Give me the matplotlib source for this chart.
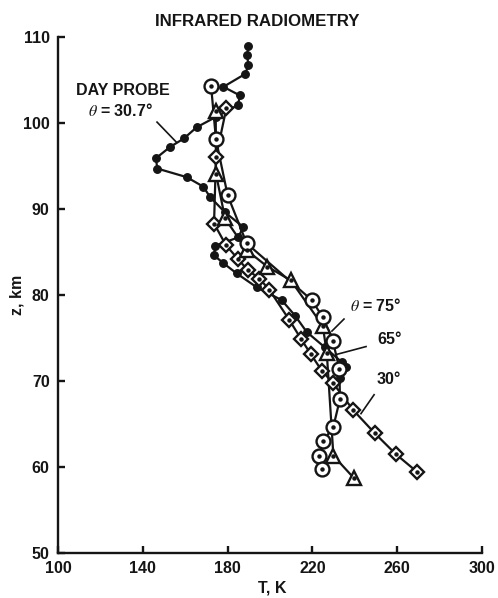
import matplotlib
matplotlib.use("Agg")
import matplotlib.pyplot as plt

plt.rcParams['font.family'] = ['Liberation Sans', 'DejaVu Sans']
plt.rcParams['mathtext.fontset'] = 'stix'

# Day probe profile (theta = 30.7 deg)
probe_T = [189.8, 189.2, 189.8, 188.3, 178.0, 185.8, 184.9, 174.5, 165.4, 159.4,
           152.8, 146.2, 146.8, 160.7, 168.5, 171.7, 178.8, 187.4, 185.0, 174.1,
           173.6, 178.0, 184.3, 193.7, 205.5, 211.8, 217.3, 225.9, 233.8, 235.8, 233.0]
probe_z = [109.0, 107.9, 106.7, 105.7, 104.2, 103.2, 102.1, 100.7, 99.5, 98.2,
           97.2, 95.9, 94.7, 93.7, 92.6, 91.4, 89.6, 87.9, 86.7, 85.7,
           84.6, 83.7, 82.5, 80.9, 79.4, 77.6, 75.7, 73.9, 72.2, 71.6, 70.3]

# Radiometer profile, theta = 75 deg (circles)
t75_T = [172.2, 174.5, 180.0, 189.0, 219.7, 224.9, 229.6, 232.7, 233.0, 229.9, 225.1, 223.3, 224.4]
t75_z = [104.3, 98.1, 91.6, 86.0, 79.4, 77.4, 74.7, 71.4, 67.9, 64.7, 63.0, 61.3, 59.8]

# Radiometer profile, theta = 65 deg (triangles)
t65_T = [174.4, 174.5, 178.8, 189.0, 198.7, 209.8, 224.9, 226.8, 229.9, 239.6]
t65_z = [101.4, 94.1, 88.9, 85.2, 83.3, 81.7, 76.4, 73.2, 61.3, 58.7]

# Radiometer profile, theta = 30 deg (diamonds)
t30_T = [179.4, 174.5, 173.6, 179.2, 184.8, 189.5, 195.0, 199.7, 209.1, 214.6,
         219.3, 224.4, 229.6, 239.3, 249.5, 259.3, 269.5]
t30_z = [101.7, 96.0, 88.3, 85.8, 84.2, 82.9, 81.9, 80.6, 77.1, 74.9,
         73.1, 71.2, 69.8, 66.6, 63.9, 61.5, 59.4]

x_ticks = [100, 140, 180, 220, 260, 300]
y_ticks = [50, 60, 70, 80, 90, 100, 110]

INK = '#151515'

fig = plt.figure(figsize=(4.98, 5.98), dpi=100)
ax = fig.add_axes([0.1165, 0.0753, 0.8514, 0.8629])

lw = 1.6
# connecting lines
ax.plot(probe_T, probe_z, color=INK, lw=lw, zorder=2)
ax.plot(t75_T, t75_z, color=INK, lw=lw, zorder=2)
ax.plot(t65_T, t65_z, color=INK, lw=lw, zorder=2)
ax.plot(t30_T, t30_z, color=INK, lw=lw, zorder=2)

# markers
ax.plot(probe_T, probe_z, ls='none', marker='o', ms=5.4, mfc=INK, mec=INK, zorder=3)
for T, z, m, ms in [(t30_T, t30_z, 'D', 7.4), (t65_T, t65_z, '^', 10.0), (t75_T, t75_z, 'o', 10.0)]:
    ax.plot(T, z, ls='none', marker=m, ms=ms, mfc='white', mec=INK, mew=1.7, zorder=4)
    ax.plot(T, z, ls='none', marker='o', ms=2.2, mfc=INK, mec=INK, zorder=5)

ax.set_xlim(100, 300)
ax.set_ylim(50, 110)
ax.set_xticks(x_ticks)
ax.set_yticks(y_ticks)
ax.spines['top'].set_visible(False)
ax.spines['right'].set_visible(False)
for s in ('left', 'bottom'):
    ax.spines[s].set_linewidth(1.7)
    ax.spines[s].set_color(INK)
ax.tick_params(direction='in', length=5, width=1.7, color=INK, labelsize=11.5,
               labelcolor=INK)
ax.tick_params(axis='x', pad=6)
ax.tick_params(axis='y', pad=6)
for lab in ax.get_xticklabels() + ax.get_yticklabels():
    lab.set_fontweight('bold')

fig.text(272 / 498, 1 - 588 / 598, 'T, K', ha='center', va='center',
         fontsize=11.5, fontweight='bold', color=INK)
fig.text(17 / 498, 1 - 295 / 598, 'z, km', ha='center', va='center',
         rotation=90, fontsize=11.5, fontweight='bold', color=INK)
fig.text(257 / 498, 1 - 21 / 598, 'INFRARED RADIOMETRY', ha='center', va='center',
         fontsize=12.2, fontweight='bold', color=INK)

# curve labels
tk = dict(fontsize=11.5, fontweight='bold', color=INK, va='center')
ax.text(130.7, 103.8, 'DAY PROBE', ha='center', **tk)
ax.text(129.2, 101.5, r'$\theta$ = 30.7°', ha='center', **tk)
ax.text(237.7, 78.8, r'$\theta$ = 75°', ha='left', **tk)
ax.text(250.5, 74.8, '65°', ha='left', **tk)
ax.text(250.5, 70.2, '30°', ha='left', **tk)

# leader lines
for (x0, y0), (x1, y1) in [((146.7, 100.1), (155.7, 97.8)),
                           ((234.9, 77.2), (229.2, 75.8)),
                           ((245.3, 74.0), (231.6, 73.1)),
                           ((249.1, 68.4), (242.9, 66.2))]:
    ax.plot([x0, x1], [y0, y1], color=INK, lw=1.2, zorder=2)

fig.savefig('out.png', dpi=100, facecolor='white')
